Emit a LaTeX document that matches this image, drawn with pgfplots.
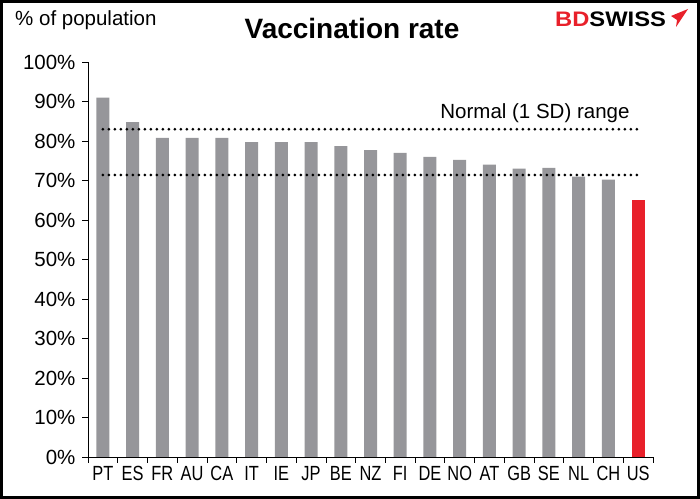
\documentclass[border=0pt]{standalone}
\usepackage{pgfplots}
\pgfplotsset{compat=1.18}
\usepackage{fontspec}
\setmainfont{Liberation Sans}
\newfontfamily\narrowfont[FakeStretch=0.8]{Liberation Sans}
\definecolor{bargrey}{RGB}{150,150,154}
\definecolor{barred}{RGB}{232,32,42}
\begin{document}
\begin{tikzpicture}[x=1bp,y=1bp]
\useasboundingbox (0,0) rectangle (700,499);
\draw[line width=3bp] (1.5,1.5) rectangle (698.5,497.5);
\begin{axis}[
  at={(88bp,42bp)}, anchor=south west, scale only axis,
  width=565bp, height=395bp,
  xmin=-0.5, xmax=18.5, ymin=0, ymax=100,
  axis lines*=left,
  axis line style={line width=0.8bp},
  tick align=outside,
  major tick length=6bp,
  tick style={black, line width=0.8bp},
  ytick={0,10,...,100},
  yticklabels={0\%,10\%,20\%,30\%,40\%,50\%,60\%,70\%,80\%,90\%,100\%},
  yticklabel style={font=\fontsize{20.5bp}{24bp}\selectfont, xshift=-3bp},
  xtick={-0.5,0.5,...,18.5},
  xticklabels={},
  extra x ticks={0,1,2,3,4,5,6,7,8,9,10,11,12,13,14,15,16,17,18},
  extra x tick labels={PT,ES,FR,AU,CA,IT,IE,JP,BE,NZ,FI,DE,NO,AT,GB,SE,NL,CH,US},
  extra x tick style={major tick length=0pt, xticklabel style={font=\narrowfont\fontsize{20.5bp}{24bp}\selectfont, yshift=-6bp}},
  clip=false,
]
\addplot[ybar, bar width=13bp, bar shift=0pt, fill=bargrey, draw=none] coordinates {
  (0,91) (1,84.8) (2,80.8) (3,80.8) (4,80.8) (5,79.7) (6,79.7) (7,79.7)
  (8,78.7) (9,77.7) (10,77) (11,76) (12,75.2) (13,74) (14,73) (15,73.2)
  (16,71) (17,70.2)
};
\addplot[ybar, bar width=13bp, bar shift=0pt, fill=barred, draw=none] coordinates {(18,65)};
\addplot[black, line width=3bp, dash pattern=on 0bp off 6bp, line cap=round] coordinates {(0,83) (18,83)};
\addplot[black, line width=3bp, dash pattern=on 0bp off 6bp, line cap=round] coordinates {(0,71.4) (18,71.4)};
\node[font=\fontsize{20.5bp}{24bp}\selectfont] at (axis cs:14.53,87.1) {Normal (1 SD) range};
\end{axis}
\node[font=\bfseries\fontsize{28bp}{32bp}\selectfont] at (352,470) {Vaccination rate};
\node[anchor=west, font=\fontsize{20.5bp}{24bp}\selectfont, inner sep=0pt] at (15,479) {\% of population};
\node[anchor=west, inner sep=0pt, font=\bfseries\fontsize{21bp}{24bp}\selectfont] at (555,480) {\scalebox{1.13}[1]{\textcolor{barred}{BD}SWISS}};
\fill[barred] (688,490) -- (671,483) -- (677,479) -- (676,472) -- cycle;
\end{tikzpicture}
\end{document}
